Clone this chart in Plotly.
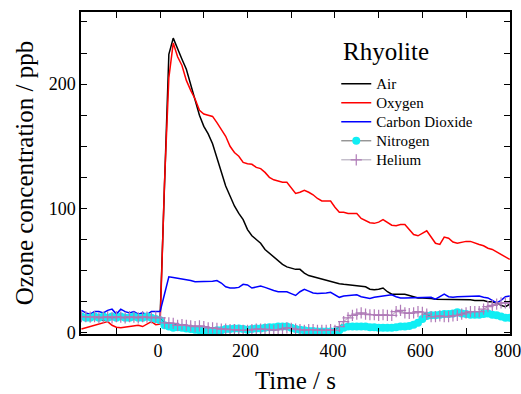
import plotly.graph_objects as go

time_s = list(range(-180, 801, 10))

air = [12, 11, 11, 12, 11, 10, 11, 11, 12, 11, 11, 10, 11, 11, 12, 11, 11, 12, 12,
       120, 224, 237, 228, 220, 212, 200, 187, 175, 166, 160, 152, 141, 129, 118, 110, 102, 96, 91, 83,
       78, 75, 72, 67, 64, 61, 58, 55, 53, 52, 51, 51, 48, 46, 45, 44, 43, 42, 41, 40,
       39.5, 39, 38.5, 38, 38, 37.5, 37, 35, 34.5, 35, 36, 33, 31, 31, 31, 31, 30, 29, 28, 28,
       28, 27.5, 27, 27, 27, 27, 26.5, 26.5, 26.5, 26.5, 26.5, 26, 26, 26, 25, 25, 24, 22, 21, 23]

oxygen = [3, 4, 5, 6, 7, 8, 9, 6, 4.5, 4, 4.5, 5, 5.5, 6, 5, 7, 9, 6.5, 7,
          120, 205, 233, 222, 215, 203, 195, 188, 179, 176, 175, 174, 169, 163, 158, 150, 145, 142, 137, 136,
          135.5, 133, 132, 129, 125, 123, 122, 121, 121, 116, 112, 113, 114.5, 113, 111, 108, 106, 106, 106, 101,
          97, 97, 96, 96, 96, 92, 90, 88.5, 88, 89, 91, 89, 86.5, 86, 87, 87, 83, 79, 78, 80,
          82, 77, 72, 71, 77, 76, 73, 72, 73, 73.5, 73.5, 72, 71, 70, 68, 67, 65, 63, 61, 59]

carbon_dioxide = [18, 16, 15, 17, 17, 16, 18, 19, 15, 19, 17, 16, 17, 15, 16, 14.5, 17, 17, 17,
                  31, 45, 44.5, 44, 43, 42.5, 42, 41, 41, 41, 41, 41.5, 42, 40, 37, 36, 36, 36.5, 39, 38.5,
                  36, 36.5, 37.5, 36.5, 35, 34, 33, 33, 33, 31.5, 30, 33, 35, 33.5, 32, 31.5, 31.5, 32, 32.5, 30.5,
                  28.5, 29.5, 30, 30.5, 30.5, 29, 28, 27.5, 28.5, 29, 29.5, 30, 30.5, 29, 28, 28, 28, 28, 28, 28.5,
                  28.5, 28.5, 27, 29, 31, 29, 28.5, 29, 29, 29, 29, 29.5, 29.5, 28.5, 28, 26, 24, 26, 29, 29.5]

nitrogen = [13, 12, 12, 13, 12, 13, 12, 13, 12, 13, 12, 12, 13, 12, 12, 13, 12, 11, 10,
            6, 5, 4, 4.5, 4, 3.5, 3, 2.5, 2, 2, 1.5, 1.5, 2, 2, 3, 3, 3.5, 3.5, 3, 2.5,
            3, 3.5, 3.5, 4, 4.5, 4.5, 5, 5, 5, 4, 3, 2.5, 2, 1.5, 1.5, 1, 1, 1, 1, 1,
            2, 4, 5, 5, 5, 5, 5, 4.5, 4.5, 4, 4, 4, 4, 4.5, 5, 5, 5.5, 6.5, 8, 11,
            13.5, 14, 14, 14.5, 15, 15, 15.5, 16.5, 15.5, 15, 14.5, 14.5, 14.5, 15, 15.5, 14.5, 14, 13, 12, 12]

helium = [13, 13, 12.5, 13, 12, 12.5, 13, 12, 13, 12.5, 12, 13, 12.5, 12, 13, 12.5, 12, 12.5, 12,
          8, 8, 7.5, 6, 6.5, 6, 5.5, 5, 5.5, 5, 4, 4, 3.5, 3, 3, 2.5, 2.5, 2, 2, 2,
          2.5, 3, 3, 3, 2.5, 2, 2.5, 3, 4, 3.5, 3, 2.5, 2, 2.5, 2.5, 2, 2, 2, 2.5, 2,
          5, 9, 12, 14, 15, 16, 15, 14.5, 14.5, 14, 14.5, 14, 14, 17, 18, 16, 15.5, 16, 17, 16.5,
          15, 13, 13, 13.5, 13, 13, 13.5, 14, 15, 16, 17, 17, 17, 19, 21, 22, 23, 24, 24, 24]

series_names = ["Air", "Oxygen", "Carbon Dioxide", "Nitrogen", "Helium"]
x_ticks = [0, 200, 400, 600, 800]
y_ticks = [0, 100, 200]

FONT = "Liberation Serif"


def legend_label(s):
    return '<span style="font-size:15px">' + s + '</span>'


fig = go.Figure()
fig.add_trace(go.Scatter(x=time_s, y=air, name=legend_label(series_names[0]), mode="lines",
                         line=dict(color="black", width=1.5)))
fig.add_trace(go.Scatter(x=time_s, y=oxygen, name=legend_label(series_names[1]), mode="lines",
                         line=dict(color="#ff0000", width=1.5)))
fig.add_trace(go.Scatter(x=time_s, y=carbon_dioxide, name=legend_label(series_names[2]), mode="lines",
                         line=dict(color="#0000ff", width=1.5)))
fig.add_trace(go.Scatter(x=time_s, y=nitrogen, name=legend_label(series_names[3]), mode="lines+markers",
                         line=dict(color="#666666", width=1),
                         marker=dict(symbol="circle", size=8, color="#10eef4")))
fig.add_trace(go.Scatter(x=time_s, y=helium, name=legend_label(series_names[4]), mode="lines+markers",
                         line=dict(color="rgba(60,40,80,0.55)", width=0.8),
                         marker=dict(symbol="cross-thin", size=8,
                                     line=dict(color="#b07ab8", width=1.2))))

axis_common = dict(showline=True, linecolor="black", linewidth=1.5, mirror="ticks",
                   ticks="inside", ticklen=6, tickwidth=1.2, tickcolor="black",
                   showgrid=False, zeroline=False, automargin=False,
                   ticklabeloverflow="allow")

fig.update_xaxes(range=[-181, 800.5], tickvals=x_ticks, ticklabelshift=-2,
                 tickfont=dict(family=FONT, size=18, color="black"),
                 minor=dict(dtick=100, tick0=0, ticks="inside", ticklen=6, tickcolor="black", tickwidth=1.2),
                 title=dict(text="Time / s", font=dict(family=FONT, size=25, color="black"), standoff=14),
                 **axis_common)
fig.update_yaxes(range=[-1, 258], tickvals=y_ticks,
                 tickfont=dict(family=FONT, size=18, color="black"),
                 minor=dict(dtick=25, tick0=0, ticks="inside", ticklen=6, tickcolor="black", tickwidth=1.2),
                 title=dict(text="Ozone concentration / ppb", font=dict(family=FONT, size=25, color="black"), standoff=8),
                 **axis_common)

fig.update_layout(
    width=521, height=394,
    margin=dict(l=81, r=11, t=12, b=60),
    paper_bgcolor="white", plot_bgcolor="white",
    showlegend=True,
    legend=dict(x=0.595, y=0.822, xanchor="left", yanchor="top",
                bgcolor="rgba(0,0,0,0)", borderwidth=0,
                font=dict(family=FONT, size=12, color="black"),
                tracegroupgap=0, itemwidth=30),
    annotations=[dict(text="Rhyolite", xref="paper", yref="paper", x=0.606, y=0.876,
                      xanchor="left", yanchor="middle", showarrow=False,
                      font=dict(family=FONT, size=25, color="black"))],
)

fig.write_html("out.html",
               config={"displayModeBar": False},
               post_script="document.body.style.margin='0';document.body.style.overflow='hidden';")
